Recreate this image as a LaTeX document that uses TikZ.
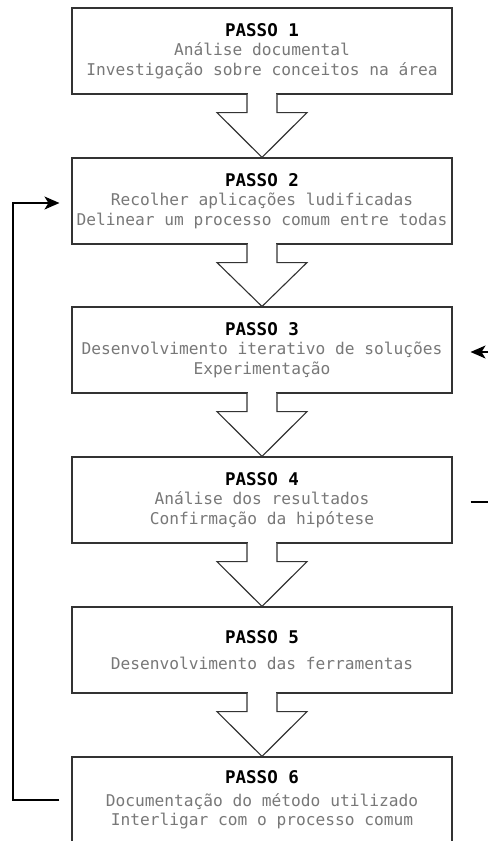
\documentclass[tikz,border=0pt]{standalone}
\usepackage{fontspec}
\setmonofont{DejaVu Sans Mono}
\usetikzlibrary{calc,arrows.meta}

\definecolor{edge}{HTML}{333333}
\definecolor{bodytext}{HTML}{787878}

\newcommand{\stephead}[1]{{\fontsize{17.5}{19.5}\selectfont\bfseries\color{black}#1}}

\tikzset{
  stepbox/.style={draw=edge, line width=1.1pt, fill=white, rectangle,
    minimum width=380pt, minimum height=86pt, inner sep=0pt,
    align=center, text=bodytext,
    font=\ttfamily\fontsize{16.2}{19.5}\selectfont},
  wire/.style={draw=black, line width=1.1pt},
  flowarrow/.style={draw=edge, line width=1.1pt, fill=white, line join=miter},
  tip/.style={-{Stealth[length=15pt,width=13pt,inset=4pt]}}
}

\begin{document}
\begin{tikzpicture}[x=1pt,y=-1pt]
\useasboundingbox (0,0) rectangle (488,841);

% process steps
\node[stepbox] (p1) at (262,51)  {\stephead{PASSO 1}\\Análise documental\\Investigação sobre conceitos na área};
\node[stepbox] (p2) at (262,201) {\stephead{PASSO 2}\\Recolher aplicações ludificadas\\Delinear um processo comum entre todas};
\node[stepbox] (p3) at (262,350) {\stephead{PASSO 3}\\Desenvolvimento iterativo de soluções\\Experimentação};
\node[stepbox] (p4) at (262,500) {\stephead{PASSO 4}\\Análise dos resultados\\Confirmação da hipótese};
\node[stepbox] (p5) at (262,650) {\stephead{PASSO 5}\\[7pt]Desenvolvimento das ferramentas};
\node[stepbox] (p6) at (262,800) {\stephead{PASSO 6}\\[3pt]Documentação do método utilizado\\Interligar com o processo comum};

% block arrows between consecutive steps
\foreach \a/\b in {p1/p2,p2/p3,p3/p4,p4/p5,p5/p6}{
  \fill[white] ($(\a.south)+(-14.4,-1.5)$) rectangle ($(\a.south)+(14.4,1)$);
  \filldraw[flowarrow] ($(\a.south)+(-15,0)$) -- ++(0,18) -- ++(-30,0)
    -- (\b.north) -- ($(\a.south)+(45,18)$) -- ++(-30,0) -- ++(0,-18);
}

% feedback loop from step 6 back to step 2
\coordinate (l6) at ($(p6.west)+(-12,0)$);
\coordinate (l2) at ($(p2.west)+(-12,2)$);
\draw[wire,tip] (l6) -- (13,800) |- (l2);

% links leaving on the right of steps 3 and 4
\coordinate (r3) at ($(p3.east)+(18,2)$);
\coordinate (r4) at ($(p4.east)+(18,2)$);
\draw[wire,tip] (488,352) -- (r3);
\draw[wire] (r4) -- (488,502);
\end{tikzpicture}
\end{document}
